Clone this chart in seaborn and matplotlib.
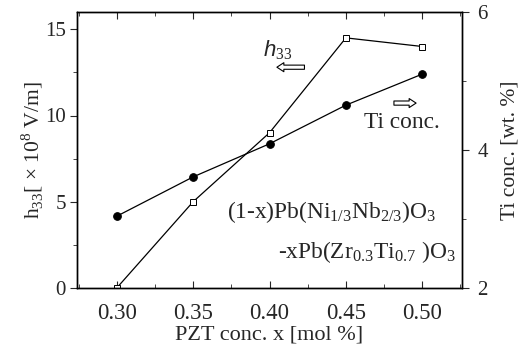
import matplotlib
matplotlib.use("Agg")
import matplotlib.pyplot as plt
import seaborn as sns
import pandas as pd
from matplotlib.ticker import MultipleLocator

# data
pzt_x = [0.30, 0.35, 0.40, 0.45, 0.50]
h33_vals = [0.0, 5.0, 9.0, 14.5, 14.0]
ti_vals = [3.04, 3.61, 4.09, 4.65, 5.10]
x_ticks = [0.30, 0.35, 0.40, 0.45, 0.50]
x_tick_labels = ["0.30", "0.35", "0.40", "0.45", "0.50"]

sns.set_style("ticks")
plt.rcParams['font.family'] = ['Liberation Serif', 'DejaVu Serif']
plt.rcParams['mathtext.fontset'] = 'custom'
plt.rcParams['mathtext.rm'] = 'Liberation Serif'
plt.rcParams['mathtext.it'] = 'Liberation Sans:italic'
plt.rcParams['mathtext.bf'] = 'Liberation Serif:bold'

df = pd.DataFrame({"x": pzt_x, "h33": h33_vals, "ti": ti_vals})

fig = plt.figure(figsize=(5.23, 3.57), dpi=100)
ax = fig.add_axes([77/523, 1-288/357, 385/523, 276/357])
ax2 = ax.twinx()

sns.lineplot(data=df, x="x", y="h33", ax=ax, color="black", lw=0.9,
             marker="s", markersize=4.5, markerfacecolor="white",
             markeredgecolor="black", markeredgewidth=0.7)
sns.lineplot(data=df, x="x", y="ti", ax=ax2, color="black", lw=0.9,
             marker="o", markersize=5.5, markerfacecolor="black",
             markeredgecolor="black")

fs_xt = 16.5
fs_yt = 15
fs_lab = 15.5
fs_ann = 16.8
ax.set_xlim(0.274, 0.526)
ax.set_ylim(0, 16)
ax2.set_ylim(2, 6)
ax.set_xticks(x_ticks)
ax.set_xticklabels(x_tick_labels)
ax.xaxis.set_minor_locator(MultipleLocator(0.025))
ax.set_yticks([0, 5, 10, 15])
ax.yaxis.set_minor_locator(MultipleLocator(2.5))
ax2.set_yticks([2, 4, 6])
ax2.yaxis.set_minor_locator(MultipleLocator(1))

ax.tick_params(axis='x', which='both', direction='in', top=True, labelsize=fs_xt, pad=11)
ax.tick_params(axis='x', which='major', length=5)
ax.tick_params(axis='x', which='minor', length=3)
ax.tick_params(axis='y', which='both', direction='out', labelsize=fs_yt, pad=3)
ax.tick_params(axis='y', which='major', length=5)
ax.tick_params(axis='y', which='minor', length=3)
ax2.tick_params(axis='y', which='both', direction='out', labelsize=fs_yt, pad=6)
ax2.tick_params(axis='y', which='major', length=5)
ax2.tick_params(axis='y', which='minor', length=3)

for a in (ax, ax2):
    for s in a.spines.values():
        s.set_visible(True)
        s.set_linewidth(1.0)
        s.set_color("black")

ax.set_xlabel("PZT conc. x [mol %]", fontsize=16, labelpad=1)
ax.set_ylabel("h$_{33}$[ × 10$^8$ V/m]", fontsize=fs_lab, labelpad=0)
ax2.set_ylabel("Ti conc. [wt. %]", fontsize=fs_lab, labelpad=9)

# annotations
arrow_style = "simple,head_length=0.5,head_width=0.65,tail_width=0.3"
ax.text(0.522, 0.862, "$h_{33}$", transform=ax.transAxes, fontsize=16,
        ha="center", va="center")
ax.annotate("", xy=(0.512, 0.80), xytext=(0.598, 0.80), xycoords=ax.transAxes,
            textcoords=ax.transAxes,
            arrowprops=dict(arrowstyle=arrow_style, fc="white", ec="black", lw=0.8))
ax.annotate("", xy=(0.888, 0.670), xytext=(0.816, 0.670), xycoords=ax.transAxes,
            textcoords=ax.transAxes,
            arrowprops=dict(arrowstyle=arrow_style, fc="white", ec="black", lw=0.8))
ax.text(0.844, 0.600, "Ti conc.", transform=ax.transAxes, fontsize=fs_ann,
        ha="center", va="center")
ax.text(0.390, 0.275, "(1-x)Pb(Ni$_{1/3}$Nb$_{2/3}$)O$_3$", transform=ax.transAxes,
        fontsize=fs_ann, ha="left", va="center")
ax.text(0.985, 0.13, "-xPb(Zr$_{0.3}$Ti$_{0.7}$ )O$_3$", transform=ax.transAxes,
        fontsize=fs_ann, ha="right", va="center")

fig.savefig("out.png", dpi=100)
